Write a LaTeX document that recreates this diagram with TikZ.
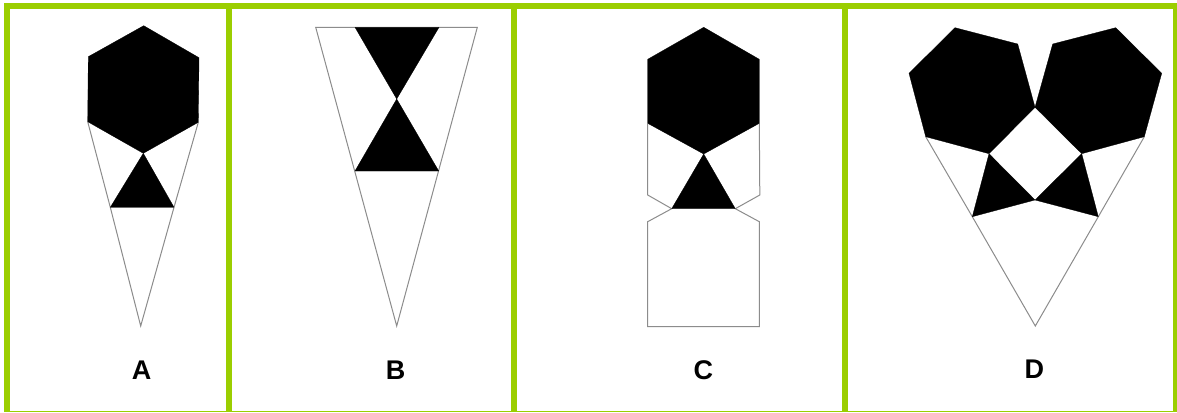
\documentclass[tikz,border=0pt]{standalone}
\usepackage{fontspec}
\setmainfont{Liberation Sans}
\definecolor{framegreen}{RGB}{155,206,0}
\definecolor{edgegray}{RGB}{140,140,140}
\begin{document}
\begin{tikzpicture}[x=1pt,y=-1pt,
  greenbar/.style={fill=framegreen,draw=none},
  blackpart/.style={fill=black,draw=black,line width=0.3pt,line join=round},
  outline/.style={draw=edgegray,line width=1pt,line join=miter},
  letter/.style={font=\fontsize{27}{30}\selectfont\bfseries,inner sep=0pt}]
\useasboundingbox (0,0) rectangle (1177,412);
\fill[white] (0,0) rectangle (1177,412);
% frame
\fill[greenbar] (4,3) rectangle (1177,9);
\fill[greenbar] (4,3) rectangle (9.5,412);
\fill[greenbar] (226,3) rectangle (232,412);
\fill[greenbar] (511,3) rectangle (517,412);
\fill[greenbar] (842,3) rectangle (848,412);
\fill[greenbar] (1173,3) rectangle (1177,412);
\fill[greenbar] (4,410.5) rectangle (1177,412);
% ---------- A ----------
\draw[outline] (87.7,121.7) -- (110.3,207.3) -- (140.7,326) -- (174,207.3) -- (198.3,122.3);
\draw[blackpart] (143.7,25.7) -- (199,57.7) -- (198.3,122.3) -- (143.3,153.3) -- (87.7,121.7) -- (88.3,56.7) -- cycle;
\draw[blackpart] (143.3,153.3) -- (174,207.3) -- (110.3,207.3) -- cycle;
\node[letter] (la) at (141.7,370) {A};
% ---------- B ----------
\draw[outline] (315.7,27.3) -- (477.3,27.3) -- (396.7,326) -- cycle;
\draw[blackpart] (355,27.3) -- (439,27.3) -- (396.7,99) -- cycle;
\draw[blackpart] (396.7,99) -- (438.7,171) -- (355,171) -- cycle;
\node[letter] (lb) at (395.7,370) {B};
% ---------- C ----------
\draw[outline] (647.7,123.3) -- (647.7,195) -- (671.7,208.7) -- (647.7,221.7) -- (647.7,326.7) -- (759.3,326.7) -- (759.3,221.7) -- (735.3,208.7) -- (759.8,195) -- (759.3,123.3);
\draw[blackpart] (703.7,27.3) -- (759.3,59.3) -- (759.3,123.3) -- (703.7,154) -- (647.7,123.3) -- (647.7,59.3) -- cycle;
\draw[blackpart] (703.7,154) -- (735.3,208.7) -- (671.7,208.7) -- cycle;
\node[letter] (lc) at (703.3,370) {C};
% ---------- D ----------
\draw[outline] (925.7,136.7) -- (972.3,216.7) -- (1035.3,326) -- (1098.3,216.7) -- (1144.3,136.7);
\draw[blackpart] (955,27.7) -- (1017.7,44) -- (1035,107.3) -- (989,153.7) -- (925.7,136.7) -- (909,73.3) -- cycle;
\draw[blackpart] (1115.7,27.7) -- (1052.7,44) -- (1035,107.3) -- (1081.7,153.7) -- (1144.3,136.7) -- (1161.7,73.3) -- cycle;
\draw[blackpart] (989,153.7) -- (1035,200) -- (972.3,216.7) -- cycle;
\draw[blackpart] (1081.7,153.7) -- (1035,200) -- (1098.3,216.7) -- cycle;
\node[letter] (ld) at (1034.3,369) {D};
\end{tikzpicture}
\end{document}
